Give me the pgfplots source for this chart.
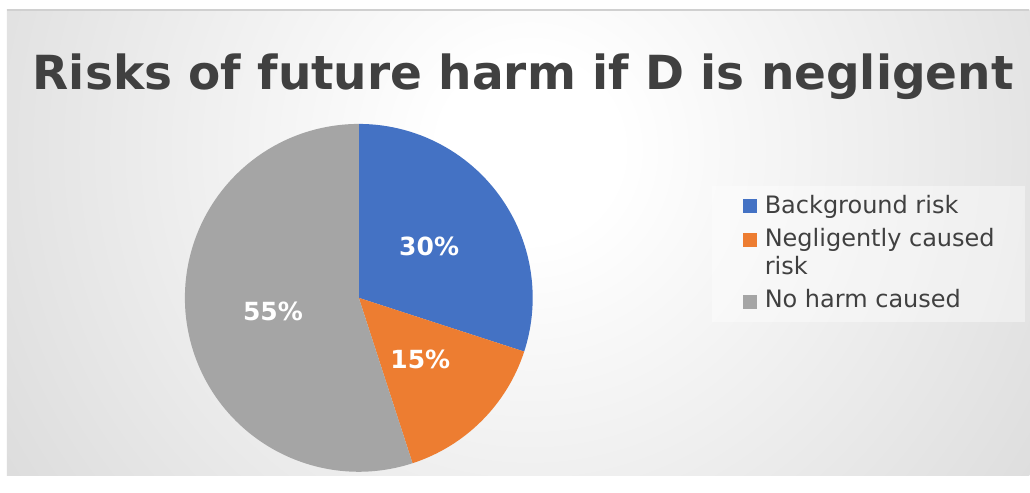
\documentclass[border=0pt]{standalone}
\usepackage{pgfplots}
\usepackage{pgfplotstable}
\pgfplotsset{compat=1.18}
\usepackage{fontspec}
\setmainfont{DejaVu Sans}
\definecolor{sblue}{HTML}{4472C4}
\definecolor{sorange}{HTML}{ED7D31}
\definecolor{sgray}{HTML}{A5A5A5}
\definecolor{txt}{HTML}{404040}
\definecolor{bgedge}{HTML}{BCBCBC}
\definecolor{bordergray}{HTML}{D0D0D0}
\pgfdeclareradialshading{bgshade}{\pgfpoint{0bp}{0bp}}{color(0bp)=(white); color(2bp)=(white); color(25bp)=(bgedge); color(50bp)=(bgedge)}

\pgfplotstableread{
label value
Background 30
Negligent 15
Noharm 55
}\piedata

\begin{document}
\begin{tikzpicture}
\pgfplotstablegetelem{0}{value}\of\piedata \let\vA\pgfplotsretval
\pgfplotstablegetelem{1}{value}\of\piedata \let\vB\pgfplotsretval
\pgfplotstablegetelem{2}{value}\of\piedata \let\vC\pgfplotsretval
\pgfmathsetmacro\aA{90}
\pgfmathsetmacro\aB{\aA-3.6*\vA}
\pgfmathsetmacro\aC{\aB-3.6*\vB}
\pgfmathsetmacro\aD{\aC-3.6*\vC}
\pgfmathsetmacro\xA{359+87*cos((\aA+\aB)/2)}
\pgfmathsetmacro\yA{178+87*sin((\aA+\aB)/2)}
\pgfmathsetmacro\xB{359+87*cos((\aB+\aC)/2)}
\pgfmathsetmacro\yB{178+87*sin((\aB+\aC)/2)}
\pgfmathsetmacro\xC{359+87*cos((\aC+\aD)/2)}
\pgfmathsetmacro\yC{178+87*sin((\aC+\aD)/2)}
\begin{axis}[at={(0,0)}, anchor=south west, scale only axis,
  width=1030pt, height=476pt, xmin=0, xmax=1030, ymin=0, ymax=476,
  axis lines=none, clip=false]
  % page
  \fill[white] (axis cs:0,0) rectangle (axis cs:1030,476);
  % background
  \begin{scope}
    \clip (axis cs:7,0) rectangle (axis cs:1030,466);
    \fill[bgedge] (axis cs:7,0) rectangle (axis cs:1030,466);
    \shade[shading=bgshade] (axis cs:530,326) circle (1120pt);
  \end{scope}
  \draw[bordergray, line width=1.2pt] (axis cs:7,466) -- (axis cs:1030,466);
  % title
  \node[anchor=base, text=txt, font=\fontsize{47}{56}\selectfont\bfseries]
    at (axis cs:523.5,386) {Risks of future harm if D is negligent};
  % pie
  \fill[sblue] (axis cs:359,178) -- ++(\aA:174pt) arc[start angle=\aA, end angle=\aB, radius=174pt] -- cycle;
  \fill[sorange] (axis cs:359,178) -- ++(\aB:174pt) arc[start angle=\aB, end angle=\aC, radius=174pt] -- cycle;
  \fill[sgray] (axis cs:359,178) -- ++(\aC:174pt) arc[start angle=\aC, end angle=\aD, radius=174pt] -- cycle;
  \node[text=white, font=\fontsize{25}{30}\selectfont\bfseries] at (axis cs:\xA,\yA) {\vA\%};
  \node[text=white, font=\fontsize{25}{30}\selectfont\bfseries] at (axis cs:\xB,\yB) {\vB\%};
  \node[text=white, font=\fontsize{25}{30}\selectfont\bfseries] at (axis cs:\xC,\yC) {\vC\%};
  % legend
  \fill[white, opacity=0.4] (axis cs:712,154) rectangle (axis cs:1026,290);
  \fill[sblue] (axis cs:743,263) rectangle (axis cs:757,277);
  \fill[sorange] (axis cs:743,229) rectangle (axis cs:757,243);
  \fill[sgray] (axis cs:743,167) rectangle (axis cs:757,181);
  \node[anchor=base west, inner sep=0pt, text=txt, font=\fontsize{24}{29}\selectfont] at (axis cs:765,262) {Background risk};
  \node[anchor=base west, inner sep=0pt, text=txt, font=\fontsize{24}{29}\selectfont] at (axis cs:765,229) {Negligently caused};
  \node[anchor=base west, inner sep=0pt, text=txt, font=\fontsize{24}{29}\selectfont] at (axis cs:765,201) {risk};
  \node[anchor=base west, inner sep=0pt, text=txt, font=\fontsize{24}{29}\selectfont] at (axis cs:765,168) {No harm caused};
\end{axis}
\end{tikzpicture}
\end{document}
